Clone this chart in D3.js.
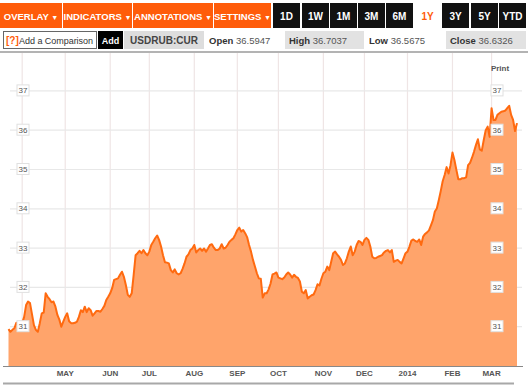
<!DOCTYPE html>
<html>
<head>
<meta charset="utf-8">
<script src="https://cdn.jsdelivr.net/npm/d3@7"></script>
<style>
  html, body { margin: 0; padding: 0; background: #fff; }
  svg { display: block; font-family: "Liberation Sans", Arial, sans-serif; }
</style>
</head>
<body>
<svg id="chart" width="528" height="387"></svg>
<script>
/* USDRUB:CUR, 1 year, one value per weekday from 21 Mar 2013 */

var startDay = new Date(2013, 2, 21);

var rates = [
  30.94, 30.87, 30.92, 30.96, 31.10, 31.04, 31.06, 31.09, 31.25, 31.55,
  31.64, 31.60, 31.32, 31.04, 30.92, 30.87, 31.09, 31.34, 31.36, 31.85,
  31.76, 31.70, 31.62, 31.64, 31.51, 31.30, 31.18, 31.00, 31.13, 31.25,
  31.34, 31.14, 31.09, 31.09, 31.10, 31.13, 31.25, 31.42, 31.37, 31.51,
  31.37, 31.47, 31.42, 31.28, 31.34, 31.40, 31.40, 31.38, 31.45, 31.53,
  31.68, 31.76, 31.85, 31.98, 32.19, 32.21, 32.23, 32.32, 32.40, 32.27,
  32.06, 31.81, 31.76, 31.85, 32.32, 32.82, 32.87, 32.93, 32.87, 32.95,
  32.87, 32.82, 32.91, 33.08, 33.16, 33.25, 33.32, 33.21, 33.04, 32.82,
  32.64, 32.63, 32.61, 32.44, 32.38, 32.46, 32.36, 32.33, 32.36, 32.47,
  32.61, 32.78, 32.84, 32.95, 32.99, 33.08, 32.89, 32.95, 32.99, 32.93,
  32.99, 32.91, 32.99, 33.08, 33.10, 33.01, 32.95, 32.95, 32.99, 33.10,
  32.99, 33.01, 33.08, 33.16, 33.21, 33.25, 33.35, 33.46, 33.52, 33.42,
  33.46, 33.38, 33.28, 33.08, 32.91, 32.70, 32.53, 32.36, 32.23, 32.22,
  31.74, 31.85, 31.85, 31.95, 32.10, 32.33, 32.35, 32.38, 32.25, 32.23,
  32.21, 32.25, 32.33, 32.38, 32.33, 32.25, 32.32, 32.27, 32.24, 32.15,
  31.89, 31.85, 31.93, 31.72, 31.76, 31.80, 31.82, 31.93, 32.08, 32.05,
  32.22, 32.36, 32.40, 32.53, 32.44, 32.65, 32.87, 32.91, 32.84, 32.78,
  32.70, 32.57, 32.61, 32.74, 32.91, 33.04, 32.82, 32.91, 33.08, 33.18,
  33.16, 33.08, 33.21, 33.26, 33.21, 33.04, 32.78, 32.74, 32.75, 32.78,
  32.80, 32.82, 32.89, 32.93, 32.95, 32.89, 32.95, 32.65, 32.68, 32.70,
  32.65, 32.61, 32.74, 32.87, 32.91, 33.04, 33.19, 33.22, 33.18, 33.16,
  33.22, 33.08, 33.29, 33.36, 33.40, 33.45, 33.58, 33.71, 33.93, 34.01,
  34.22, 34.45, 34.70, 34.86, 35.06, 34.90, 35.11, 35.43, 35.24, 34.99,
  34.75, 34.75, 34.78, 34.78, 34.80, 35.11, 35.17, 35.30, 35.45, 35.62,
  35.77, 35.51, 35.48, 35.75, 36.00, 36.09, 35.83, 36.56, 36.26, 36.26,
  36.39, 36.43, 36.47, 36.48, 36.50, 36.56, 36.62, 36.39, 36.26, 35.98,
  36.18
];

var yTicks = [31, 32, 33, 34, 35, 36, 37];
var monthLabels = ["", "MAY", "JUN", "JUL", "AUG", "SEP", "OCT", "NOV", "DEC", "2014", "FEB", "MAR"];

var menuItems = ["OVERLAY", "INDICATORS", "ANNOTATIONS", "SETTINGS"];
var rangeItems = ["1D", "1W", "1M", "3M", "6M", "1Y", "3Y", "5Y", "YTD"];
var quoteName = "USDRUB:CUR";
var quoteFields = ["Open", "High", "Low", "Close"];
var quoteValues = ["36.5947", "36.7037", "36.5675", "36.6326"];

var orange = "#ff5c0a",
    lineColor = "#ff6a10",
    areaColor = "#ffa46b";

var svg = d3.select("#chart");

// weekday calendar for the x positions
var days = [];
var d = new Date(startDay);
while (days.length < rates.length) {
  if (d.getDay() % 6 !== 0) days.push(new Date(d));
  d.setDate(d.getDate() + 1);
}
var monthStarts = [];
days.forEach(function(day, i) {
  if (i > 0 && day.getMonth() !== days[i - 1].getMonth()) monthStarts.push(i);
});

var x = d3.scaleLinear().domain([0, rates.length - 1]).range([8.5, 517]);
var y = d3.scaleLinear().domain([30, 38]).range([366, 51.6]);

// ---- toolbar ----
var menuX = [0, 63, 133, 214, 272];
var menu = svg.append("g");
menuItems.forEach(function(t, i) {
  menu.append("rect")
    .attr("x", menuX[i]).attr("y", 3)
    .attr("width", menuX[i + 1] - menuX[i] - 1).attr("height", 25)
    .attr("fill", orange);
  var tx = menu.append("text")
    .attr("x", (menuX[i] + menuX[i + 1] - 1) / 2).attr("y", 19.5)
    .attr("text-anchor", "middle")
    .attr("fill", "#fff").attr("font-size", 9.5).attr("font-weight", "bold");
  tx.append("tspan").text(t + " ");
  tx.append("tspan").attr("font-size", 7).text("\u25BC");
});

var rangeX = [273, 302, 330, 358, 386, 414, 442, 471, 499];
var rangeW = 27;
rangeItems.forEach(function(t, i) {
  var active = t === "1Y";
  if (!active) {
    svg.append("rect")
      .attr("x", rangeX[i]).attr("y", 3)
      .attr("width", rangeW).attr("height", 25)
      .attr("fill", "#111");
  }
  svg.append("text")
    .attr("x", rangeX[i] + rangeW / 2).attr("y", 19.5)
    .attr("text-anchor", "middle")
    .attr("fill", active ? orange : "#fff")
    .attr("font-size", 10).attr("font-weight", "bold")
    .text(t);
});

// ---- quote row ----
svg.append("rect").attr("x", 3.5).attr("y", 31.5).attr("width", 93).attr("height", 17)
  .attr("fill", "#fff").attr("stroke", "#666");
svg.append("text").attr("x", 6).attr("y", 44).attr("font-size", 10).attr("font-weight", "bold")
  .attr("fill", orange).text("[?]");
svg.append("text").attr("x", 19).attr("y", 43.5).attr("font-size", 9).attr("fill", "#333")
  .attr("textLength", 74).text("Add a Comparison");
svg.append("rect").attr("x", 98).attr("y", 31).attr("width", 25).attr("height", 18).attr("fill", "#000");
svg.append("text").attr("x", 110.5).attr("y", 43.5).attr("text-anchor", "middle")
  .attr("font-size", 9).attr("font-weight", "bold").attr("fill", "#fff").text("Add");
svg.append("rect").attr("x", 124).attr("y", 31).attr("width", 80).attr("height", 18).attr("fill", "#dddddd");
svg.append("text").attr("x", 164).attr("y", 44).attr("text-anchor", "middle")
  .attr("font-size", 10).attr("font-weight", "bold").attr("fill", "#444").text(quoteName);

var fieldX = [209, 289, 369, 450];
var fieldBox = [null, [285, 79], null, [446, 80]];
quoteFields.forEach(function(f, i) {
  if (fieldBox[i]) {
    svg.append("rect").attr("x", fieldBox[i][0]).attr("y", 31)
      .attr("width", fieldBox[i][1]).attr("height", 18).attr("fill", "#e2e2e2");
  }
  var t = svg.append("text").attr("x", fieldX[i]).attr("y", 44).attr("font-size", 9.5).attr("fill", "#333");
  t.append("tspan").attr("font-weight", "bold").text(f + " ");
  t.append("tspan").attr("fill", "#555").text(quoteValues[i]);
});

svg.append("line").attr("x1", 0).attr("x2", 528).attr("y1", 52).attr("y2", 52)
  .attr("stroke", "#9a9a9a").attr("stroke-width", 1.5);

// ---- grid ----
var grid = svg.append("g");
grid.selectAll(".vgrid").data(monthStarts).enter().append("line")
  .attr("x1", function(i) { return x(i); }).attr("x2", function(i) { return x(i); })
  .attr("y1", 53).attr("y2", 366)
  .attr("stroke", "#efe5e5").attr("stroke-width", 1.2);
grid.selectAll(".hgrid").data(yTicks).enter().append("line")
  .attr("x1", 10).attr("x2", 522)
  .attr("y1", function(v) { return y(v); }).attr("y2", function(v) { return y(v); })
  .attr("stroke", "#e8e8e8").attr("stroke-width", 1.2);

// ---- series ----
var area = d3.area()
  .x(function(v, i) { return x(i); })
  .y0(y(30))
  .y1(function(v) { return y(v); });
var line = d3.line()
  .x(function(v, i) { return x(i); })
  .y(function(v) { return y(v); });

svg.append("path").datum(rates).attr("d", area).attr("fill", areaColor);
svg.append("path").datum(rates).attr("d", line)
  .attr("fill", "none").attr("stroke", lineColor).attr("stroke-width", 2)
  .attr("stroke-linejoin", "round");

// ---- y labels, both sides ----
[23, 497].forEach(function(cx) {
  var g = svg.append("g").selectAll("g").data(yTicks).enter().append("g")
    .attr("transform", function(v) { return "translate(" + cx + "," + y(v) + ")"; });
  g.append("rect").attr("x", -6).attr("y", -6).attr("width", 12).attr("height", 11)
    .attr("fill", "#fff").attr("stroke", "#e0e0e0");
  g.append("text").attr("text-anchor", "middle").attr("y", 2.5)
    .attr("font-size", 8).attr("fill", "#555").text(function(v) { return v; });
});

svg.append("text").attr("x", 500).attr("y", 71).attr("text-anchor", "middle")
  .attr("font-size", 8).attr("font-weight", "bold").attr("fill", "#555").text("Print");

// ---- x axis ----
svg.append("line").attr("x1", 3).attr("x2", 523).attr("y1", 366.5).attr("y2", 366.5)
  .attr("stroke", "#888").attr("stroke-width", 1);
svg.append("g").selectAll("text").data(monthStarts).enter().append("text")
  .attr("x", function(i) { return x(i); }).attr("y", 376)
  .attr("text-anchor", "middle")
  .attr("font-size", 8).attr("font-weight", "bold").attr("fill", "#555")
  .text(function(i, k) { return monthLabels[k]; });
svg.append("line").attr("x1", 3).attr("x2", 514).attr("y1", 383.5).attr("y2", 383.5)
  .attr("stroke", "#a8a8a8").attr("stroke-width", 2);
</script>
</body>
</html>
